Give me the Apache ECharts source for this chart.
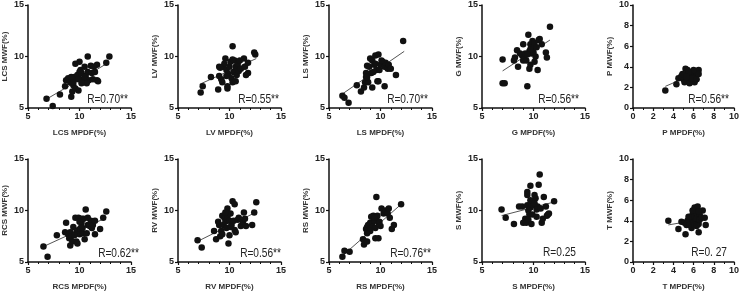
<!DOCTYPE html>
<html>
<head>
<meta charset="utf-8">
<script src="https://cdn.jsdelivr.net/npm/echarts@6/dist/echarts.min.js"></script>
<style>
  html, body { margin: 0; padding: 0; background: #fff; }
  #chart { width: 742px; height: 292px; }
</style>
</head>
<body>
<div id="chart"></div>
<script>
// region names and correlation labels
var regions = ['LCS', 'LV', 'LS', 'G', 'P', 'RCS', 'RV', 'RS', 'S', 'T'];
var rLabels = ['R=0.70**', 'R=0.55**', 'R=0.70**', 'R=0.56**', 'R=0.56**',
               'R=0.62**', 'R=0.56**', 'R=0.76**', 'R=0.25', 'R=0. 27'];
var axisRanges = [[5, 15, 5], [5, 15, 5], [5, 15, 5], [5, 15, 5], [0, 10, 2],
                  [5, 15, 5], [5, 15, 5], [5, 15, 5], [5, 15, 5], [0, 10, 2]];

// MPDF (x) vs MWF (y) points
var lcsPts = [[6.8,5.9],[7.4,5.2],[8.1,6.3],[8.6,7.1],[8.7,7.7],[8.9,7.9],[9.1,7.5],[9.2,6.1],
  [9.3,6.6],[9.4,7.2],[9.5,8.0],[9.6,6.9],[9.9,6.7],[9.8,8.2],[10.0,8.5],[10.0,9.5],[10.1,7.8],
  [10.2,8.4],[9.6,9.3],[10.4,7.7],[10.5,9.0],[10.8,10.0],[10.6,8.1],[10.8,8.5],[10.9,7.7],
  [11.1,9.1],[10.7,7.4],[11.2,8.4],[11.4,9.0],[11.5,8.5],[11.7,7.7],[11.8,7.6],[11.7,9.2],
  [11.3,7.8],[12.6,9.4],[12.9,10.0],[10.1,8.7],[9.2,8.0],[9.4,7.5],[10.5,8.0],[9.9,7.8],[10.2,7.4]];
var lvPts = [[7.2,6.5],[7.4,7.1],[8.2,8.0],[8.9,6.8],[9.0,8.1],[9.0,9.0],[9.2,7.8],[9.3,7.5],
  [9.4,9.0],[9.6,9.8],[9.7,8.7],[9.8,6.9],[9.8,7.1],[9.9,8.3],[10.0,9.0],[10.1,9.5],[10.2,7.9],
  [10.3,7.5],[10.3,11.0],[10.4,8.5],[10.5,9.6],[10.6,7.6],[10.6,9.0],[10.7,8.2],[10.8,9.3],
  [10.9,8.6],[11.0,9.6],[11.1,8.8],[11.4,9.8],[11.5,9.0],[11.6,8.2],[11.8,8.4],[11.8,9.4],
  [12.4,10.4],[12.5,10.2],[9.5,9.3],[9.7,8.1],[9.1,8.9],[10.3,9.7]];
var lsPts = [[6.3,6.2],[6.5,6.0],[6.9,5.5],[7.7,7.2],[8.1,6.6],[8.4,7.0],[8.5,7.5],[8.6,8.0],
  [8.6,8.4],[8.7,9.1],[8.7,7.6],[8.8,7.5],[8.9,9.0],[9.0,9.8],[9.1,8.4],[9.2,7.0],[9.2,9.6],
  [9.4,9.2],[9.5,10.1],[9.6,8.7],[9.7,7.6],[9.8,10.2],[9.8,7.6],[9.9,8.7],[10.0,9.2],[10.2,9.5],
  [10.4,9.0],[10.4,7.1],[10.5,9.4],[10.7,8.8],[10.8,9.2],[11.0,8.8],[11.5,8.2],[12.2,11.5],
  [9.3,8.5],[9.5,9.3],[10.1,9.6],[8.7,8.0]];
var gPts = [[7.0,9.7],[7.0,7.4],[7.2,7.4],[8.1,9.6],[8.2,9.9],[8.4,10.6],[8.5,9.0],[8.7,10.3],
  [8.9,10.1],[9.0,9.6],[9.0,11.2],[9.1,9.9],[9.2,10.3],[9.3,9.6],[9.4,7.1],[9.5,12.1],[9.6,10.5],
  [9.6,8.8],[9.7,9.2],[9.7,11.2],[9.8,10.3],[9.9,11.5],[9.9,10.9],[10.0,10.4],[10.1,11.3],
  [10.2,10.0],[10.4,8.7],[10.5,11.6],[10.6,11.7],[10.8,11.2],[11.2,10.4],[11.3,9.9],[11.6,12.9],
  [9.7,10.7],[9.4,10.2],[10.3,10.9],[10.1,9.5]];
var pPts = [[3.2,1.7],[4.3,2.3],[4.5,2.9],[4.8,3.0],[5.0,2.8],[5.2,3.2],[5.2,3.8],[5.3,2.7],
  [5.4,3.4],[5.5,3.0],[5.6,2.5],[5.6,3.2],[5.7,2.8],[5.8,3.5],[5.9,3.1],[6.0,2.7],[6.1,3.3],
  [6.1,2.5],[6.2,3.0],[6.3,3.5],[6.5,3.7],[6.5,3.3],[5.4,3.7],[5.1,2.5],[5.6,2.4],[6.0,3.7],
  [4.8,3.1],[5.5,3.5],[5.8,2.9],[6.3,2.8],[4.9,3.3],[5.3,3.0]];
var rcsPts = [[6.5,6.5],[6.9,5.5],[7.8,7.6],[8.7,8.8],[8.6,7.9],[8.9,7.7],[9.0,7.3],[9.1,6.6],
  [9.1,7.9],[9.2,7.5],[9.3,7.0],[9.4,8.4],[9.6,9.3],[9.7,7.9],[9.7,7.0],[9.8,6.8],[9.9,8.1],
  [9.9,9.3],[10.0,7.7],[10.1,8.3],[10.2,8.8],[10.2,9.2],[10.3,7.8],[10.4,9.2],[10.5,7.2],
  [10.6,10.1],[10.7,7.8],[10.8,8.6],[11.0,8.5],[11.1,9.0],[11.2,8.3],[11.3,8.6],[11.5,9.0],
  [11.5,7.7],[12.0,8.2],[12.3,9.3],[12.6,9.9],[9.5,7.6],[10.3,8.3],[10.8,9.3],[10.0,8.9]];
var rvPts = [[6.9,7.1],[7.3,6.4],[8.5,8.0],[8.7,7.2],[8.9,8.9],[9.0,8.6],[9.1,7.5],[9.2,8.0],
  [9.3,9.5],[9.4,8.6],[9.5,9.3],[9.6,8.9],[9.7,8.3],[9.8,10.2],[9.8,9.4],[9.9,6.8],[10.0,9.0],
  [10.0,7.6],[10.1,9.7],[10.2,8.6],[10.3,10.9],[10.4,9.0],[10.5,8.1],[10.5,10.6],[10.6,7.9],
  [10.8,9.1],[10.9,9.3],[11.1,8.5],[11.3,8.9],[11.4,9.8],[11.5,9.2],[11.6,8.5],[12.2,8.6],
  [12.4,9.8],[12.6,10.8],[9.6,9.8],[10.1,8.4],[9.3,7.7]];
var rsPts = [[6.3,5.5],[6.5,6.1],[7.0,6.0],[8.3,7.2],[8.4,6.7],[8.5,7.0],[8.6,8.2],[8.7,8.4],
  [8.7,7.0],[8.8,8.6],[8.9,8.1],[9.0,8.8],[9.1,9.4],[9.2,8.8],[9.2,8.4],[9.3,9.5],[9.4,9.0],
  [9.5,8.3],[9.5,7.3],[9.6,11.3],[9.6,9.4],[9.7,9.5],[9.8,8.8],[9.8,7.3],[9.9,8.9],[10.0,8.5],
  [10.1,10.2],[10.3,9.7],[10.5,10.0],[10.7,9.7],[10.8,10.2],[10.9,9.3],[11.1,8.2],[11.3,8.6],
  [12.0,10.6],[9.0,8.0],[9.4,9.3],[8.7,7.8]];
var sPts = [[6.9,10.1],[7.3,9.3],[8.1,8.7],[8.6,10.4],[8.9,10.4],[9.0,8.8],[9.2,9.2],[9.3,8.8],
  [9.4,11.8],[9.4,10.5],[9.5,10.0],[9.6,9.6],[9.7,10.3],[9.7,12.4],[9.8,10.6],[9.8,8.7],
  [9.9,9.6],[10.0,10.5],[10.1,11.5],[10.2,11.2],[10.3,10.1],[10.3,9.4],[10.4,10.4],[10.5,12.5],
  [10.6,13.5],[10.7,10.2],[10.8,8.8],[10.9,9.2],[11.0,11.3],[11.2,10.4],[11.3,9.5],[11.4,9.6],
  [11.5,9.7],[12.0,10.9],[9.7,11.0],[9.4,11.5],[10.1,10.7],[9.5,9.1]];
var tPts = [[3.5,4.0],[4.5,3.2],[4.8,3.9],[5.1,3.8],[5.2,2.7],[5.3,3.6],[5.4,4.0],[5.5,4.1],
  [5.6,3.6],[5.7,4.3],[5.8,3.3],[5.9,4.1],[5.9,4.6],[6.0,5.0],[6.0,3.8],[6.1,5.3],[6.1,4.4],
  [6.2,4.0],[6.3,4.7],[6.3,4.2],[6.4,5.4],[6.5,2.9],[6.5,3.7],[6.6,4.6],[6.6,4.1],[6.8,4.3],
  [6.9,5.0],[7.1,4.3],[7.2,3.6],[5.9,5.0],[6.1,3.6],[5.5,4.4],[6.3,3.5],[6.5,4.9]];

// fitted regression lines (end points)
var lcsFit = [[6.7, 5.8], [12.8, 9.4]];
var lvFit = [[7.1, 7.3], [12.6, 9.8]];
var lsFit = [[6.2, 6.3], [12.3, 10.5]];
var gFit = [[7.0, 8.6], [11.6, 11.6]];
var pFit = [[3.2, 2.1], [6.5, 3.5]];
var rcsFit = [[6.5, 6.5], [12.6, 9.3]];
var rvFit = [[6.9, 7.0], [12.5, 9.8]];
var rsFit = [[6.3, 5.6], [12.0, 10.6]];
var sFit = [[6.9, 9.5], [11.9, 10.8]];
var tFit = [[3.5, 3.6], [7.1, 4.2]];

var allPts = [lcsPts, lvPts, lsPts, gPts, pPts, rcsPts, rvPts, rsPts, sPts, tPts];
var allFits = [lcsFit, lvFit, lsFit, gFit, pFit, rcsFit, rvFit, rsFit, sFit, tFit];

// layout (pixels)
var gridLefts = [28, 178, 329, 482, 633, 28, 178, 329, 482, 633];
var gridTops = [5, 5, 5, 5, 5, 159, 159, 159, 159, 159];
var gridW = 103, gridH = 103;
var rRight = [128, 279, 428, 579, 729, 139, 281, 431, 576, 727];
var rY = [99, 99, 99, 99, 99, 253, 253, 253, 252, 252];

var chart = echarts.init(document.getElementById('chart'), null, { renderer: 'canvas' });

var font = 'Arial, "Liberation Sans", sans-serif';
var axisColor = '#111';
var grids = [], xAxes = [], yAxes = [], series = [], texts = [];

for (var i = 0; i < regions.length; i++) {
  var rng = axisRanges[i];
  grids.push({ left: gridLefts[i], top: gridTops[i], width: gridW, height: gridH });
  var common = {
    gridIndex: i,
    min: rng[0], max: rng[1], interval: rng[2],
    nameLocation: 'middle',
    nameTextStyle: { fontFamily: font, fontWeight: 'bold', fontSize: 8, color: '#333' },
    axisLine: { show: true, onZero: false, lineStyle: { color: axisColor, width: 1.5 } },
    axisTick: { show: true, length: 3, lineStyle: { color: axisColor, width: 1.2 } },
    axisLabel: { fontFamily: font, fontWeight: 'bold', fontSize: 9, color: '#222', margin: 4 },
    splitLine: { show: false }
  };
  xAxes.push(Object.assign({}, common, {
    type: 'value',
    name: regions[i] + ' MPDF(%)',
    nameGap: 21,
    minorTick: { show: true, splitNumber: rng[2] === 5 ? 5 : 2, length: 2,
                 lineStyle: { color: axisColor, width: 1 } }
  }));
  yAxes.push(Object.assign({}, common, {
    type: 'value',
    name: regions[i] + ' MWF(%)',
    nameGap: 19
  }));
  series.push({
    type: 'scatter',
    xAxisIndex: i, yAxisIndex: i,
    data: allPts[i],
    symbolSize: 6.5,
    itemStyle: { color: '#111', opacity: 1 },
    z: 3
  });
  series.push({
    type: 'line',
    xAxisIndex: i, yAxisIndex: i,
    data: allFits[i],
    symbol: 'none',
    lineStyle: { color: '#555', width: 1 },
    z: 2
  });
  texts.push({
    type: 'text',
    x: rRight[i], y: rY[i],
    scaleX: 0.78,
    style: {
      text: rLabels[i],
      align: 'right', verticalAlign: 'middle',
      fontFamily: font, fontSize: 13, fill: '#222'
    },
    z: 10
  });
}

var option = {
  animation: false,
  backgroundColor: '#fff',
  grid: grids,
  xAxis: xAxes,
  yAxis: yAxes,
  series: series,
  graphic: texts
};

chart.setOption(option);
</script>
</body>
</html>
